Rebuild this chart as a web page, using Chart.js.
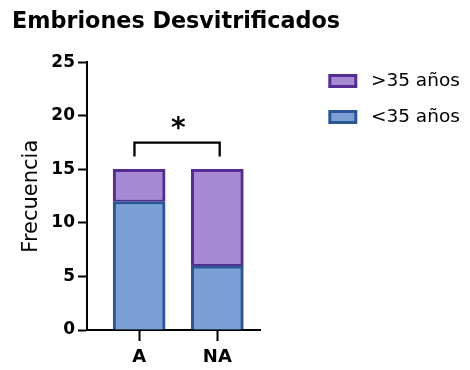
<!DOCTYPE html>
<html>
<head>
<meta charset="utf-8">
<title>Embriones Desvitrificados</title>
<script src="https://cdn.jsdelivr.net/npm/chart.js@4/dist/chart.umd.min.js"></script>
<style>
  html, body { margin: 0; padding: 0; background: #ffffff; }
  canvas { display: block; }
</style>
</head>
<body>
<canvas id="chart" width="470" height="370"></canvas>
<script>
// Groups on the x axis and embryo counts per age band
const categories = ['A', 'NA'];
const under35 = [12, 6];
const over35 = [3, 9];
const seriesLabels = ['<35 años', '>35 años'];

// Significance bracket between the two groups (x in group index units, y in counts)
const bracketX = [-0.06, 1.03];
const bracketY = [16.2, 17.5];
const starPos = [0.5, 18.75];
const starText = '*';

const FONT = 'DejaVu Sans';
const purpleFill = '#a68ad4';
const purpleEdge = '#552c92';
const blueFill = '#7ba0d5';
const blueEdge = '#2c5597';

const toPoints = (vals) => vals.map((v, i) => ({ x: i, y: v }));

// Moves the legend block to its place on the right of the plot
const legendPlace = {
  id: 'legendPlace',
  afterLayout(chart) {
    const lg = chart.legend;
    if (!lg) return;
    const pad = lg.options.labels.padding;
    const dx = 329.8 - (lg.left + pad);
    const dy = 71.75 - (lg.top + pad);
    lg.left += dx; lg.right += dx;
    lg.top += dy; lg.bottom += dy;
  }
};

// Bracket and asterisk marking the significant difference
const sigMark = {
  id: 'sigMark',
  afterDatasetsDraw(chart) {
    const { ctx, scales: { x, y } } = chart;
    const xl = x.getPixelForValue(bracketX[0]);
    const xr = x.getPixelForValue(bracketX[1]);
    const yb = y.getPixelForValue(bracketY[0]);
    const yt = y.getPixelForValue(bracketY[1]);
    ctx.save();
    ctx.strokeStyle = '#000';
    ctx.lineWidth = 2.3;
    ctx.lineJoin = 'miter';
    ctx.beginPath();
    ctx.moveTo(xl, yb);
    ctx.lineTo(xl, yt);
    ctx.lineTo(xr, yt);
    ctx.lineTo(xr, yb);
    ctx.stroke();
    ctx.fillStyle = '#000';
    ctx.font = 'bold 28px "' + FONT + '"';
    ctx.textAlign = 'center';
    ctx.textBaseline = 'middle';
    ctx.fillText(starText, x.getPixelForValue(starPos[0]), y.getPixelForValue(starPos[1]));
    ctx.restore();
  }
};

new Chart(document.getElementById('chart'), {
  type: 'bar',
  data: {
    datasets: [
      {
        label: seriesLabels[0],
        data: toPoints(under35),
        backgroundColor: blueFill,
        borderColor: blueEdge,
        borderWidth: 3
      },
      {
        label: seriesLabels[1],
        data: toPoints(over35),
        backgroundColor: purpleFill,
        borderColor: purpleEdge,
        borderWidth: { top: 3, left: 3, right: 3, bottom: 2 },
        borderSkipped: false
      }
    ]
  },
  options: {
    responsive: false,
    animation: false,
    devicePixelRatio: 1,
    barThickness: 52,
    layout: { padding: { left: 12, right: 52, top: 0, bottom: 0 } },
    scales: {
      x: {
        type: 'linear',
        stacked: true,
        offset: false,
        min: -0.667,
        max: 1.551,
        afterBuildTicks: (s) => { s.ticks = categories.map((c, i) => ({ value: i })); },
        afterFit: (s) => { s.height = 40; },
        ticks: {
          callback: (v) => categories[v],
          autoSkip: false,
          maxRotation: 0,
          color: '#000',
          padding: 5.5,
          font: { family: FONT, size: 18, weight: 'bold' }
        },
        grid: { offset: false, drawOnChartArea: false, tickLength: 11, tickWidth: 2, color: '#000' },
        border: { color: '#000', width: 2 }
      },
      y: {
        stacked: true,
        min: 0,
        max: 25,
        afterFit: (s) => { s.width = 75; },
        ticks: {
          stepSize: 5,
          color: '#000',
          padding: 3,
          font: { family: FONT, size: 17, weight: 'bold' }
        },
        grid: { drawOnChartArea: false, tickLength: 9, tickWidth: 2, color: '#000' },
        border: { color: '#000', width: 2 },
        title: {
          display: true,
          text: 'Frecuencia',
          color: '#000',
          font: { family: FONT, size: 21 },
          padding: { top: 6.9, bottom: 0 }
        }
      }
    },
    plugins: {
      title: {
        display: true,
        text: 'Embriones Desvitrificados',
        align: 'start',
        color: '#000',
        font: { family: FONT, size: 22.3, weight: 'bold' },
        padding: { top: 8.5, bottom: 27.1 }
      },
      legend: {
        position: 'right',
        align: 'start',
        reverse: true,
        maxWidth: 160,
        labels: {
          boxWidth: 26,
          boxHeight: 11,
          padding: 17.5,
          color: '#000',
          font: { family: FONT, size: 18.5 },
          generateLabels(chart) {
            const items = Chart.defaults.plugins.legend.labels.generateLabels(chart);
            items.forEach((it) => { it.text = ' ' + it.text; it.lineWidth = 3; });
            return items;
          }
        }
      },
      tooltip: { enabled: false }
    }
  },
  plugins: [legendPlace, sigMark]
});
</script>
</body>
</html>
